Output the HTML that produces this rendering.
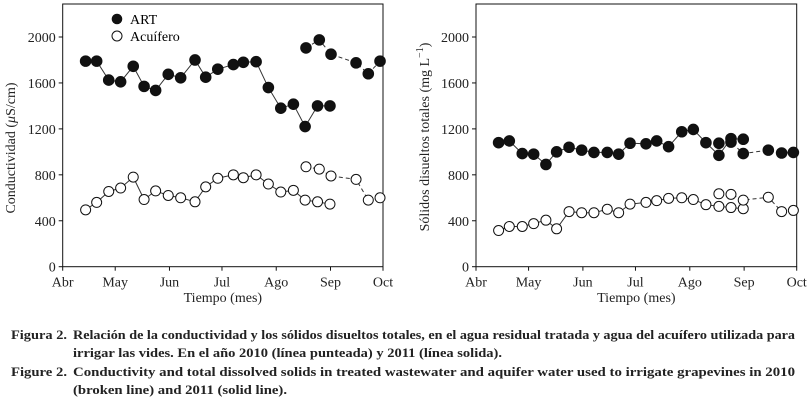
<!DOCTYPE html>
<html><head><meta charset="utf-8"><style>
body{margin:0;background:#fff}
svg{display:block;font-family:"Liberation Serif",serif}
</style></head><body>
<svg id="fig" width="808" height="402" viewBox="0 0 808 402">
<g id="panelA"></g>
<g id="panelB"></g>
<g>
<circle cx="117" cy="19" r="5.3" fill="#111"/>
<text x="130" y="24" font-size="14">ART</text>
<circle cx="117" cy="36" r="5" fill="#fff" stroke="#111" stroke-width="1"/>
<text x="130" y="41" font-size="14">Acuífero</text>
</g>
<g font-weight="bold" font-size="13" fill="#222">
<text x="11" y="339" textLength="56" lengthAdjust="spacingAndGlyphs">Figura 2.</text>
<text x="73" y="339" textLength="722" lengthAdjust="spacingAndGlyphs">Relación de la conductividad y los sólidos disueltos totales, en el agua residual tratada y agua del acuífero utilizada para</text>
<text x="73" y="357" textLength="429" lengthAdjust="spacingAndGlyphs">irrigar las vides. En el año 2010 (línea punteada) y 2011 (línea solida).</text>
<text x="11" y="376" textLength="56" lengthAdjust="spacingAndGlyphs">Figure 2.</text>
<text x="73" y="376" textLength="722" lengthAdjust="spacingAndGlyphs">Conductivity and total dissolved solids in treated wastewater and aquifer water used to irrigate grapevines in 2010</text>
<text x="73" y="394" textLength="214" lengthAdjust="spacingAndGlyphs">(broken line) and 2011 (solid line).</text>
</g>
</svg>
<script>
const months = ["Abr","May","Jun","Jul","Ago","Sep","Oct"];
const monthDays = [0,30,61,91,122,153,183];
const yTicks = [0,400,800,1200,1600,2000];
// Conductivity panel
const condDays2011 = [13.1,19.4,26.3,33.1,40.3,46.5,53.1,60.3,67.4,75.6,81.7,88.6,97.5,103.2,110.5,117.5,124.6,131.8,138.5,145.6,152.7];
const condArt2011 = [1790,1790,1625,1610,1745,1570,1535,1675,1645,1800,1650,1720,1760,1780,1785,1560,1380,1415,1220,1400,1400];
const condAcu2011 = [495,560,655,685,780,585,660,620,600,565,695,770,800,775,800,720,650,665,580,565,545];
const condDays2010 = [139,146.6,153.3,167.6,174.6,181.3];
const condArt2010 = [1905,1975,1850,1775,1680,1790];
const condAcu2010 = [870,850,790,760,580,600];
// Dissolved solids panel
const tdsDays2011 = [12.9,19.0,26.4,32.9,39.9,46.0,53.1,60.3,67.3,74.9,81.4,87.9,97.0,103.1,109.9,117.4,124.0,131.2,138.6,145.5,152.5];
const tdsArt2011 = [1080,1095,985,980,890,1000,1040,1015,995,995,980,1075,1070,1095,1045,1175,1195,1080,970,1115,1110];
const tdsAcu2011 = [315,350,350,375,405,330,480,470,470,500,470,545,560,575,595,600,585,540,525,515,505];
const tdsDays2010 = [138.6,145.5,152.5,166.8,174.4,181.1];
const tdsArt2010 = [1075,1085,985,1015,990,995];
const tdsAcu2010 = [635,630,580,605,480,490];

const NS="http://www.w3.org/2000/svg";
function mk(parent,tag,attrs){const e=document.createElementNS(NS,tag);for(const k in attrs)e.setAttribute(k,attrs[k]);parent.appendChild(e);return e;}

function panel(g,L,R,title,titleX,titleY,series){
  const T=4,B=266.7;
  const xs=d=>L+(R-L)*d/183;
  const ys=v=>B-(B-37)*v/2000;
  const box=mk(g,'rect',{x:L,y:T,width:R-L,height:B-T,fill:'none',stroke:'#111','stroke-width':1});
  
  
  yTicks.forEach(v=>{
    const t=mk(g,'line',{x1:L-4,x2:L,y1:ys(v),y2:ys(v),stroke:'#111'});
    
    
    const tx=mk(g,'text',{x:L-7,y:ys(v)+5,'font-size':14,'text-anchor':'end',fill:'#222'});
    tx.textContent=v;
    
    
  });
  months.forEach((m,i)=>{
    const x=xs(monthDays[i]);
    const t=mk(g,'line',{x1:x,x2:x,y1:B,y2:B+4,stroke:'#111'});
    
    
    const tx=mk(g,'text',{x:x,y:B+20,'font-size':14,'text-anchor':'middle',fill:'#222'});
    tx.textContent=m;
    
    
  });
  const xt=mk(g,'text',{x:(L+R)/2,y:302,'font-size':14,'text-anchor':'middle',fill:'#222'});
  xt.textContent='Tiempo (mes)';
  
  
  const yt=mk(g,'text',{x:titleX,y:titleY,'font-size':14,'text-anchor':'middle',fill:'#222',transform:`rotate(-90 ${titleX} ${titleY})`});
  yt.innerHTML=title;
  
  
  series.forEach(s=>{
    const pts=s.days.map((d,i)=>xs(d)+','+ys(s.vals[i])).join(' ');
    const pl=mk(g,'polyline',{points:pts,fill:'none',stroke:'#333','stroke-width':1,'stroke-dasharray':s.dash?'4,3':'none'});
    
    
    s.days.forEach((d,i)=>{
      const c=mk(g,'circle',{cx:xs(d),cy:ys(s.vals[i]),r:s.filled?5.3:5,fill:s.filled?'#111':'#fff',stroke:'#111','stroke-width':1});
      
      
    });
  });
}
panel(document.getElementById('panelA'),62.7,383,'Conductividad (<tspan font-style="italic">μ</tspan>S/cm)',15,148,[
  {name:'art-2011',days:condDays2011,vals:condArt2011,filled:true},
  {name:'acuifero-2011',days:condDays2011,vals:condAcu2011,filled:false},
  {name:'art-2010',days:condDays2010,vals:condArt2010,filled:true,dash:true},
  {name:'acuifero-2010',days:condDays2010,vals:condAcu2010,filled:false,dash:true}
]);
panel(document.getElementById('panelB'),476,796.7,'Sólidos disueltos totales (mg L<tspan font-size="10" dy="-6">−1</tspan><tspan dy="6">)</tspan>',429,137,[
  {name:'art-2011',days:tdsDays2011,vals:tdsArt2011,filled:true},
  {name:'acuifero-2011',days:tdsDays2011,vals:tdsAcu2011,filled:false},
  {name:'art-2010',days:tdsDays2010,vals:tdsArt2010,filled:true,dash:true},
  {name:'acuifero-2010',days:tdsDays2010,vals:tdsAcu2010,filled:false,dash:true}
]);
</script>
</body></html>
